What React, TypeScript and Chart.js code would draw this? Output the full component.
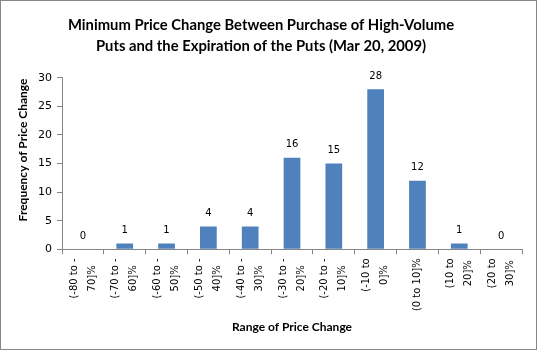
import React, { useEffect, useRef } from "react";
import { Chart, registerables } from "chart.js";

Chart.register(...registerables);

const TITLE_LINES = [
  "Minimum Price Change Between Purchase of High-Volume",
  "Puts and the Expiration of the Puts (Mar 20, 2009)",
];
const X_TITLE = "Range of Price Change";
const Y_TITLE = "Frequency of Price Change";

const categories: string[][] = [
  ["(-80 to -", "70]%"],
  ["(-70 to -", "60]%"],
  ["(-60 to -", "50]%"],
  ["(-50 to -", "40]%"],
  ["(-40 to -", "30]%"],
  ["(-30 to -", "20]%"],
  ["(-20 to -", "10]%"],
  ["(-10 to", "0]%"],
  ["(0 to 10]%"],
  ["(10 to", "20]%"],
  ["(20 to", "30]%"],
];
const frequencies = [0, 1, 1, 4, 4, 16, 15, 28, 12, 1, 0];

const Y_MIN = 0;
const Y_MAX = 30;
const Y_STEP = 5;

const AXIS_COLOR = "#868686";
const BAR_COLOR = "#4F81BD";
const TEXT_FONT = "'DejaVu Sans', Verdana, sans-serif";
const TITLE_FONT = "Lato, 'Open Sans', sans-serif";

const frameAndLabels = {
  id: "frameAndLabels",
  beforeDraw(chart: any) {
    const ctx = chart.ctx;
    ctx.save();
    ctx.fillStyle = "#ffffff";
    ctx.fillRect(0, 0, chart.width, chart.height);
    ctx.restore();
  },
  afterDatasetsDraw(chart: any) {
    const ctx = chart.ctx;
    const meta = chart.getDatasetMeta(0);
    const data = chart.data.datasets[0].data;
    ctx.save();
    ctx.font = `10px ${TEXT_FONT}`;
    ctx.fillStyle = "#000000";
    ctx.textAlign = "center";
    ctx.textBaseline = "middle";
    meta.data.forEach((bar: any, i: number) => {
      ctx.fillText(String(data[i]), bar.x, bar.y - 13);
    });
    ctx.restore();
  },
  afterDraw(chart: any) {
    const ctx = chart.ctx;
    const xScale = chart.scales.x;
    // x-axis category labels: rotated, lines centred on each other, top-aligned
    ctx.save();
    ctx.font = `10px ${TEXT_FONT}`;
    ctx.fillStyle = "#000000";
    ctx.textAlign = "center";
    ctx.textBaseline = "middle";
    const labels: string[][] = chart.data.labels;
    const topY = xScale.top + 9;
    const lineGap = 18;
    labels.forEach((lines, i) => {
      const cx = xScale.getPixelForValue(i);
      const maxW = Math.max(...lines.map((l) => ctx.measureText(l).width));
      const cy = topY + maxW / 2;
      lines.forEach((line, j) => {
        const off = (j - (lines.length - 1) / 2) * lineGap;
        ctx.save();
        ctx.translate(cx + off, cy);
        ctx.rotate(-Math.PI / 2);
        ctx.fillText(line, 0, 0);
        ctx.restore();
      });
    });
    ctx.restore();
    // y-axis title
    ctx.save();
    ctx.font = `bold 12px ${TITLE_FONT}`;
    ctx.fillStyle = "#000000";
    ctx.textAlign = "center";
    ctx.textBaseline = "middle";
    ctx.translate(23, 150);
    ctx.rotate(-Math.PI / 2);
    ctx.fillText(Y_TITLE, 0, 0);
    ctx.restore();
    // outer frame
    ctx.save();
    ctx.strokeStyle = AXIS_COLOR;
    ctx.lineWidth = 1;
    ctx.strokeRect(0.5, 0.5, chart.width - 1, chart.height - 1);
    ctx.restore();
  },
};

export default function App() {
  const canvasRef = useRef<HTMLCanvasElement | null>(null);

  useEffect(() => {
    const canvas = canvasRef.current;
    if (!canvas) return;
    const chart = new Chart(canvas, {
      type: "bar",
      data: {
        labels: categories,
        datasets: [
          {
            data: frequencies,
            backgroundColor: BAR_COLOR,
            borderWidth: 0,
            barPercentage: 0.4,
            categoryPercentage: 1,
          },
        ],
      },
      options: {
        responsive: false,
        animation: false,
        devicePixelRatio: 1,
        layout: { padding: { left: 0, right: 15, top: 0, bottom: 0 } },
        plugins: {
          legend: { display: false },
          tooltip: { enabled: false },
          title: {
            display: true,
            text: TITLE_LINES,
            color: "#000000",
            font: { family: TITLE_FONT, size: 14.8, weight: "bold", lineHeight: 20.5 / 14.8 },
            padding: { top: 15, bottom: 21.7 },
          },
        },
        scales: {
          x: {
            offset: true,
            grid: {
              offset: true,
              drawOnChartArea: false,
              drawTicks: true,
              tickLength: 5,
              color: AXIS_COLOR,
            },
            border: { color: AXIS_COLOR },
            ticks: {
              display: false,
              autoSkip: false,
            },
            title: {
              display: true,
              text: X_TITLE,
              color: "#000000",
              font: { family: TITLE_FONT, size: 12, weight: "bold" },
              padding: { top: 0, bottom: 15.8 },
            },
            afterFit(scale: any) {
              scale.height = 350 - 249.3;
            },
          },
          y: {
            min: Y_MIN,
            max: Y_MAX,
            ticks: {
              stepSize: Y_STEP,
              color: "#000000",
              font: { family: TEXT_FONT, size: 11 },
              padding: 5,
            },
            grid: {
              drawOnChartArea: false,
              drawTicks: true,
              tickLength: 5,
              color: AXIS_COLOR,
            },
            border: { color: AXIS_COLOR },
            afterFit(scale: any) {
              scale.width = 62;
            },
          },
        },
      },
      plugins: [frameAndLabels],
    } as any);
    return () => chart.destroy();
  }, []);

  return (
    <div style={{ position: "absolute", left: 0, top: 0, width: 537, height: 350 }}>
      <canvas ref={canvasRef} width={537} height={350} style={{ display: "block" }} />
    </div>
  );
}
